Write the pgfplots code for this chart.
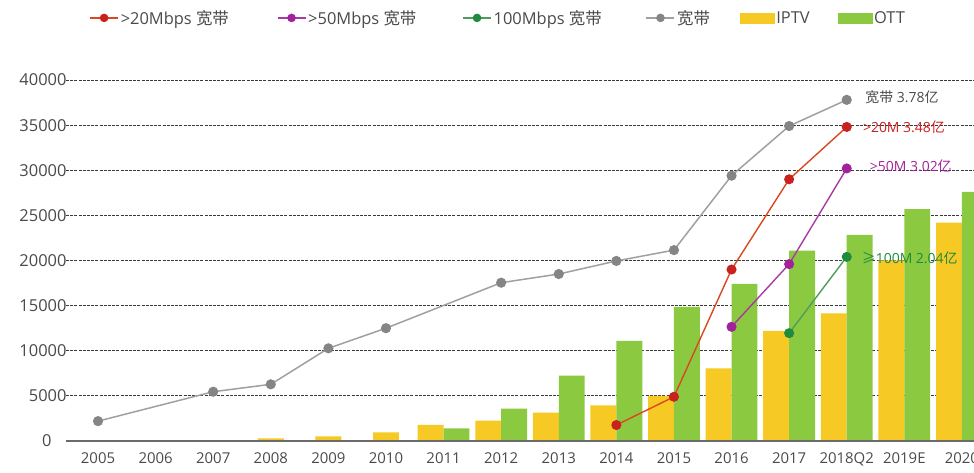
\documentclass[border=0pt]{standalone}
\usepackage{pgfplots}
\pgfplotsset{compat=1.18}
\usepackage{pgfplotstable}
\usepackage{fontspec}
\setmainfont{Open Sans}
\newfontfamily\cjk{Noto Sans CJK SC}
\definecolor{cIPTV}{HTML}{F6C924}
\definecolor{cOTT}{HTML}{8BC941}
\definecolor{cR}{HTML}{C8211E}
\definecolor{cRL}{HTML}{D9481F}
\definecolor{cP}{HTML}{A1229B}
\definecolor{cPL}{HTML}{A83AA3}
\definecolor{cG}{HTML}{1E8B3E}
\definecolor{cGL}{HTML}{4E9E57}
\definecolor{cBB}{HTML}{858585}
\definecolor{cBBL}{HTML}{A0A0A0}
\definecolor{cTxt}{HTML}{4A4A4A}
\definecolor{cAx}{HTML}{6A6A6A}
\definecolor{cGrid}{HTML}{3A3A3A}

% index: 2005=0 ... 2018Q2=13, 2019E=14, 2020=15
\pgfplotstableread{
x iptv
3 300
4 500
5 950
}\tabsingle
\pgfplotstableread{
x iptv ott
6 1800 1400
7 2250 3600
8 3150 7250
9 3950 11100
10 5000 14850
11 8050 17400
12 12200 21100
13 14150 22850
14 20000 25700
15 24200 27600
}\tabpair

\pgfplotsset{mylinelegend/.style={legend image code/.code={\draw[mark repeat=2,mark phase=2,##1] plot coordinates {(0bp,0bp)(14bp,0bp)(28bp,0bp)};}}}

\begin{document}
\begin{tikzpicture}
\useasboundingbox (0,0) rectangle (974bp,473bp);
\begin{axis}[
  at={(66bp,32bp)}, anchor=south west,
  scale only axis, width=908bp, height=361bp,
  xmin=-0.556, xmax=15.21, ymin=0, ymax=40000,
  scaled y ticks=false,
  axis x line*=bottom, axis y line*=left,
  x axis line style={draw=cAx, line width=2.2bp},
  y axis line style={draw=none},
  major tick length=0pt,
  xtick={0,...,15},
  xticklabels={2005,2006,2007,2008,2009,2010,2011,2012,2013,2014,2015,2016,2017,2018Q2,2019E,2020},
  ytick={0,5000,...,40000},
  yticklabels={0\rule{15bp}{0pt},5000,10000,15000,20000,25000,30000,35000,40000},
  xticklabel style={font=\fontsize{15}{17}\selectfont, text=cTxt, yshift=-8bp},
  yticklabel style={font=\fontsize{16.5}{18}\selectfont, text=cTxt, xshift=4bp},
  ymajorgrids,
  grid style={draw=cGrid, line width=0.9bp, dash pattern=on 3bp off 1.2bp},
  legend columns=-1,
  legend style={draw=none, fill=none, at={(0.476,1.172)}, anchor=center,
    font=\fontsize{16.5}{18}\selectfont, text=cTxt,
    /tikz/every even column/.style={column sep=0bp}},
  legend cell align=left,
]
% legend entries
\addlegendimage{mylinelegend, cRL, line width=1.3bp, mark=*, mark size=3.6bp, mark options={fill=cR, draw=cR}}
\addlegendentry{>20Mbps {\cjk 宽带}\rule{46bp}{0pt}}
\addlegendimage{mylinelegend, cPL, line width=1.3bp, mark=*, mark size=3.6bp, mark options={fill=cP, draw=cP}}
\addlegendentry{>50Mbps {\cjk 宽带}\rule{44bp}{0pt}}
\addlegendimage{mylinelegend, cGL, line width=1.3bp, mark=*, mark size=3.6bp, mark options={fill=cG, draw=cG}}
\addlegendentry{100Mbps {\cjk 宽带}\rule{42bp}{0pt}}
\addlegendimage{mylinelegend, cBBL, line width=1.3bp, mark=*, mark size=3.6bp, mark options={fill=cBB, draw=cBB}}
\addlegendentry{{\cjk 宽带}\rule{28bp}{0pt}}
\addlegendimage{legend image code/.code={\fill[cIPTV] (0bp,-5bp) rectangle (34bp,5bp);}}
\addlegendentry{IPTV\rule{26bp}{0pt}}
\addlegendimage{legend image code/.code={\fill[cOTT] (0bp,-5bp) rectangle (34bp,5bp);}}
\addlegendentry{OTT}

% bars
\addplot[ybar, bar width=0.45, bar shift=0, fill=cIPTV, draw=none, forget plot] table[x=x, y=iptv] {\tabsingle};
\addplot[ybar, bar width=0.45, bar shift=-0.225, fill=cIPTV, draw=none, forget plot] table[x=x, y=iptv] {\tabpair};
\addplot[ybar, bar width=0.45, bar shift=0.225, fill=cOTT, draw=none, forget plot] table[x=x, y=ott] {\tabpair};

\draw[cAx, line width=2.2bp] (rel axis cs:0,0) -- (rel axis cs:1,0);

% lines
\addplot[cBBL, line width=1.5bp, mark=*, mark size=4.3bp, mark options={fill=cBB, draw=cBB}, forget plot] coordinates {
(0,2200) (2,5460) (3,6280) (4,10270) (5,12500) (7,17540) (8,18500) (9,19950) (10,21150) (11,29400) (12,34900) (13,37800)};
\addplot[cRL, line width=1.4bp, mark=*, mark size=4.3bp, mark options={fill=cR, draw=cR}, forget plot] coordinates {
(9,1770) (10,4900) (11,19000) (12,29000) (13,34800)};
\addplot[cPL, line width=1.4bp, mark=*, mark size=4.3bp, mark options={fill=cP, draw=cP}, forget plot] coordinates {
(11,12650) (12,19600) (13,30200)};
\addplot[cGL, line width=1.4bp, mark=*, mark size=4.3bp, mark options={fill=cG, draw=cG}, forget plot] coordinates {
(12,11950) (13,20400)};

% annotations
\node[anchor=west, text=cTxt, font=\fontsize{14}{16}\selectfont, inner sep=0pt] at (axis cs:13.32,38120) {{\cjk 宽带} 3.78{\cjk 亿}};
\node[anchor=west, text=cR, font=\fontsize{14}{16}\selectfont, inner sep=0pt] at (axis cs:13.28,34800) {>20M 3.48{\cjk 亿}};
\node[anchor=west, text=cP, font=\fontsize{14}{16}\selectfont, inner sep=0pt] at (axis cs:13.40,30450) {>50M 3.02{\cjk 亿}};
\node[anchor=west, text=cG, font=\fontsize{14}{16}\selectfont, inner sep=0pt] at (axis cs:13.26,20300) {{\cjk ≥}100M 2.04{\cjk 亿}};
\end{axis}
\end{tikzpicture}
\end{document}
